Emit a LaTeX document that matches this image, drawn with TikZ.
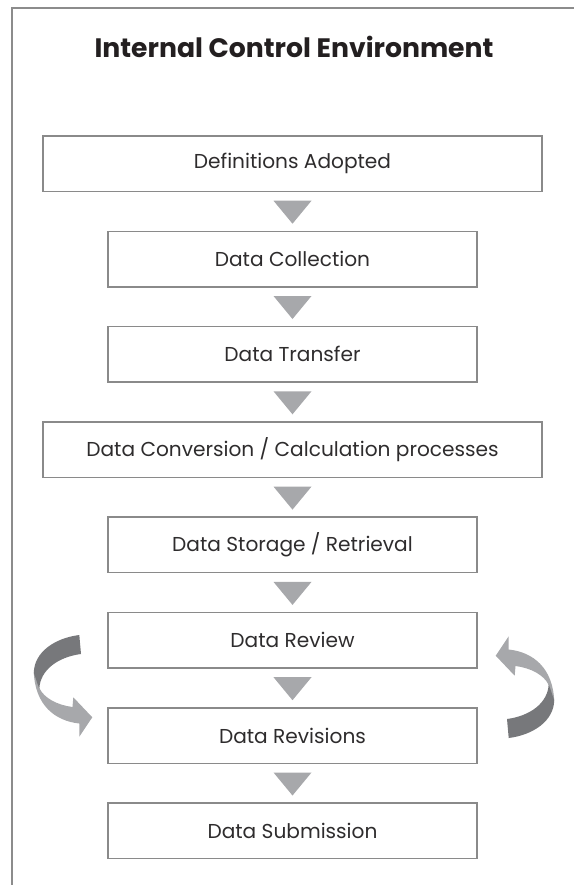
\documentclass[tikz,border=0pt]{standalone}
\usepackage{fontspec}
\newfontfamily\lightfont{Poppins}
\newfontfamily\popfont{Poppins}
\usetikzlibrary{calc}
\definecolor{framegray}{HTML}{8C8C8C}
\definecolor{boxgray}{HTML}{8A8A8A}
\definecolor{trigray}{HTML}{A7A8AB}
\definecolor{darkarrow}{HTML}{77787B}
\definecolor{txt}{HTML}{231F20}
\definecolor{boxtxt}{HTML}{2E2C2D}
\newcommand\ribbonarrow{%
  \fill[trigray] (33.8,672) .. controls (35,705) and (55,721) .. (79.3,723.5)
     -- (79.3,736.7) -- (92.3,717.3) -- (73.3,697.3) -- (72.5,707)
     .. controls (57,705) and (44,698) .. (39.3,688) -- cycle;
  \fill[darkarrow] (79.3,635) .. controls (55,638) and (34,652) .. (33.8,673)
     -- (39.3,689) .. controls (40,670) and (58,657) .. (81,654) -- cycle;
}
\begin{document}
\begin{tikzpicture}[x=0.75pt,y=-0.75pt,
  stepbox/.style={draw=boxgray,line width=1.1pt,minimum height=41.6pt,inner sep=0pt,
    font=\lightfont\fontsize{15.1}{18}\selectfont,text=boxtxt},
  widebox/.style={stepbox,minimum width=374.25pt},
  narrowbox/.style={stepbox,minimum width=276.75pt},
  tri/.style={fill=trigray},
  framerule/.style={draw=framegray,line width=0.9pt}
]
\useasboundingbox (0,0) rectangle (574,885);
\draw[framerule] (12,885) -- (12,8) -- (574,8);
\node[anchor=base,text=txt,font=\popfont\bfseries\fontsize{20}{24}\selectfont] (title) at (294,57.3) {Internal Control Environment};

\node[widebox]   (b1) at (292.5,163.75) {Definitions Adopted};
\node[narrowbox] (b2) at (292.5,259.05) {Data Collection};
\node[narrowbox] (b3) at (292.5,354.35) {Data Transfer};
\node[widebox]   (b4) at (292.5,449.65) {Data Conversion / Calculation processes};
\node[narrowbox] (b5) at (292.5,544.95) {Data Storage / Retrieval};
\node[narrowbox] (b6) at (292.5,640.25) {Data Review};
\node[narrowbox] (b7) at (292.5,735.55) {Data Revisions};
\node[narrowbox] (b8) at (292.5,830.85) {Data Submission};

\foreach \a/\b in {b1/b2,b2/b3,b3/b4,b4/b5,b5/b6,b6/b7,b7/b8}{
  \fill[tri] ($(\a.south)+(-19,8.5)$) -- ($(\a.south)+(19,8.5)$) -- ($(\a.south)+(0,31.5)$) -- cycle;
}

\ribbonarrow
\begin{scope}[rotate around={180:(294,686.5)}]
\ribbonarrow
\end{scope}
\end{tikzpicture}
\end{document}
